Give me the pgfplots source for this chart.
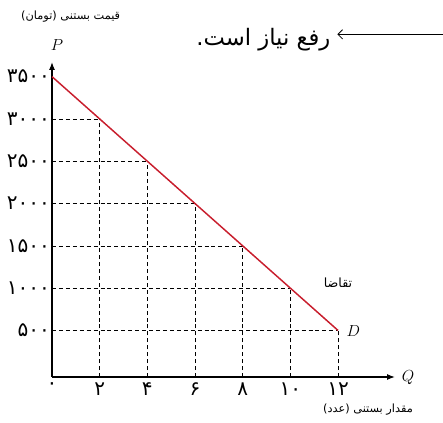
\documentclass[border=0pt]{standalone}
\usepackage{pgfplots}
\pgfplotsset{compat=1.18}
\usepackage{fontspec}
\usetikzlibrary{arrows.meta}
\TeXXeTstate=1
\newfontfamily\fa[Script=Arabic]{DejaVu Sans}
\definecolor{demand}{RGB}{200,30,45}

\begin{document}
\begin{tikzpicture}
    % page frame, in pt, from the 443x423 reference
    \path[use as bounding box] (-39pt,-34.5pt) rectangle (293.25pt,282.75pt);
    \begin{axis}[
        at={(0,0)}, anchor=south west,
        scale only axis,
        width=257.25pt, height=236.25pt,
        xmin=0, xmax=14.39,
        ymin=-50, ymax=3673,
        axis x line=bottom, axis y line=left,
        axis line style={line width=0.9pt, -{Latex[length=6pt,width=4.5pt]}},
        xtick={0,2,4,6,8,10,12},
        xticklabels={{۰},{۲},{۴},{۶},{۸},{۱۰},{۱۲}},
        ytick={500,1000,1500,2000,2500,3000,3500},
        yticklabels={{۵۰۰},{۱۰۰۰},{۱۵۰۰},{۲۰۰۰},{۲۵۰۰},{۳۰۰۰},{۳۵۰۰}},
        tick label style={font=\fa\fontsize{15}{16}\selectfont},
        major tick length=0pt,
        xticklabel style={yshift=-1pt},
        yticklabel style={xshift=2pt},
        unbounded coords=jump,
        clip=false,
    ]
        % dashed guides
        \addplot[black, line width=0.5pt, dash pattern=on 3pt off 2.2pt] coordinates {
            (2,-50) (2,3000) (nan,nan)
            (4,-50) (4,2500) (nan,nan)
            (6,-50) (6,2000) (nan,nan)
            (8,-50) (8,1500) (nan,nan)
            (10,-50) (10,1000) (nan,nan)
            (12,-50) (12,500)
        };
        \addplot[black, line width=0.5pt, dash pattern=on 3pt off 2.2pt] coordinates {
            (0,3000) (2,3000) (nan,nan)
            (0,2500) (4,2500) (nan,nan)
            (0,2000) (6,2000) (nan,nan)
            (0,1500) (8,1500) (nan,nan)
            (0,1000) (10,1000) (nan,nan)
            (0,500) (12,500)
        };
        % demand
        \addplot[demand, line width=1.1pt] coordinates {
            (0,3500) (2,3000) (4,2500) (6,2000) (8,1500) (10,1000) (12,500)
        };
    \end{axis}
    \node at (14pt,270pt) {\fa\fontsize{8.5}{10}\selectfont\beginR قیمت بستنی (تومان)\endR};
    \node at (3.75pt,249pt) {\large$P$};
    \node at (267pt,-0.75pt) {\large$Q$};
    \node at (226pt,34.5pt) {\large$D$};
    \node at (214.5pt,70.5pt) {\fa\fontsize{9.5}{11}\selectfont\beginR تقاضا\endR};
    \node at (237pt,-24.75pt) {\fa\fontsize{8.5}{10}\selectfont\beginR مقدار بستنی (عدد)\endR};
    \node[anchor=east, inner sep=0pt] at (209pt,253pt) {\fa\fontsize{17}{20}\selectfont\beginR رفع نیاز است.\endR};
    \draw[line width=0.6pt, {Straight Barb[length=3.5pt,width=7pt]}-] (214pt,257pt) -- (294pt,257pt);
\end{tikzpicture}
\end{document}
